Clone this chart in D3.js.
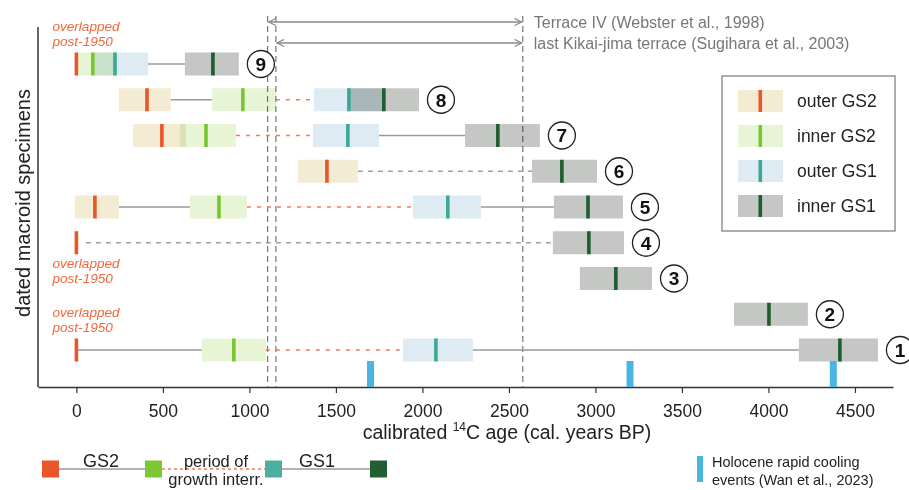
<!DOCTYPE html>
<html lang="en">
<head>
<meta charset="UTF-8">
<script src="https://d3js.org/d3.v7.min.js"></script>
<title>Macroid ages</title>
<style>
  body { margin: 0; background: #fff; }
  text { font-family: "Liberation Sans", Arial, sans-serif; }
</style>
</head>
<body>
<div id="chart"></div>
<script>
// specimens, top to bottom
const specimens = [9, 8, 7, 6, 5, 4, 3, 2, 1];

// calibrated ages (cal. yr BP): lo / age / hi  (no lo,hi = single date)
const outerGS2 = [
  { id: 9, age: 0 },
  { id: 8, lo: 246, age: 408, hi: 546 },
  { id: 7, lo: 327, age: 494, hi: 633 },
  { id: 6, lo: 1280, age: 1448, hi: 1627 },
  { id: 5, lo: -9, age: 107, hi: 246 },
  { id: 4, age: 0 },
  { id: 1, age: 0 }
];
const innerGS2 = [
  { id: 9, lo: -5, age: 95, hi: 223 },
  { id: 8, lo: 783, age: 962, hi: 1153 },
  { id: 7, lo: 598, age: 749, hi: 922 },
  { id: 5, lo: 656, age: 824, hi: 986 },
  { id: 1, lo: 725, age: 910, hi: 1095 }
];
const outerGS1 = [
  { id: 9, lo: 95, age: 223, hi: 413 },
  { id: 8, lo: 1373, age: 1575, hi: 1777 },
  { id: 7, lo: 1368, age: 1569, hi: 1749 },
  { id: 5, lo: 1945, age: 2147, hi: 2338 },
  { id: 1, lo: 1887, age: 2078, hi: 2292 }
];
const innerGS1 = [
  { id: 9, lo: 627, age: 789, hi: 939 },
  { id: 8, lo: 1575, age: 1777, hi: 1980 },
  { id: 7, lo: 2246, age: 2436, hi: 2679 },
  { id: 6, lo: 2633, age: 2806, hi: 3009 },
  { id: 5, lo: 2760, age: 2957, hi: 3159 },
  { id: 4, lo: 2754, age: 2962, hi: 3165 },
  { id: 3, lo: 2910, age: 3118, hi: 3327 },
  { id: 2, lo: 3801, age: 4003, hi: 4228 },
  { id: 1, lo: 4176, age: 4413, hi: 4633 }
];

// connectors
const growthLinks = [ // solid grey, within a growth stage
  { id: 9, from: 413, to: 627 },
  { id: 8, from: 546, to: 783 },
  { id: 7, from: 1749, to: 2246 },
  { id: 5, from: 246, to: 656 },
  { id: 5, from: 2338, to: 2760 },
  { id: 1, from: 0, to: 725 },
  { id: 1, from: 2292, to: 4176 }
];
const interruptLinks = [ // dashed orange, growth interruption
  { id: 8, from: 1153, to: 1373 },
  { id: 7, from: 922, to: 1368 },
  { id: 5, from: 986, to: 1945 },
  { id: 1, from: 1095, to: 1887 }
];
const unknownLinks = [ // dashed grey
  { id: 6, from: 1627, to: 2633 },
  { id: 4, from: 55, to: 2754 }
];

const postBombNotes = [9, 4, 1];
const coolingEvents = [1700, 3200, 4375];
const terraceLines = [1105, 1153, 2580];
const terraceArrows = [
  { from: 1105, to: 2580, label: "Terrace IV (Webster et al., 1998)" },
  { from: 1153, to: 2580, label: "last Kikai-jima terrace (Sugihara et al., 2003)" }
];
const xTicks = [0, 500, 1000, 1500, 2000, 2500, 3000, 3500, 4000, 4500];

const stages = [
  { name: "outer GS2", data: outerGS2, box: "#f4ebd3", tick: "#e8562a" },
  { name: "inner GS2", data: innerGS2, box: "#e7f5d6", tick: "#78c52e" },
  { name: "outer GS1", data: outerGS1, box: "#deebf2", tick: "#3aa895" },
  { name: "inner GS1", data: innerGS1, box: "#c4c7c4", tick: "#1d5e30" }
];

const width = 909, height = 490;
const svg = d3.select("#chart").append("svg")
  .attr("width", width).attr("height", height);

const x = d3.scaleLinear().domain([-222, 4720]).range([38, 893]);
const y = d3.scalePoint().domain(specimens).range([64, 350]);
const boxH = 23;
const axisY = 387;

// frame: left line + bottom axis
svg.append("line").attr("x1", 38).attr("x2", 38).attr("y1", 27).attr("y2", axisY)
  .attr("stroke", "#333").attr("stroke-width", 1.5);

const xAxis = svg.append("g").attr("transform", `translate(0,${axisY})`)
  .call(d3.axisBottom(x).tickValues(xTicks).tickFormat(d3.format("d"))
    .tickSize(6).tickPadding(12).tickSizeOuter(0));
xAxis.select(".domain").attr("stroke", "#333").attr("stroke-width", 1.5);
xAxis.selectAll(".tick line").attr("stroke", "#333").attr("stroke-width", 1.2);
xAxis.selectAll(".tick text").attr("font-size", 17.5).attr("fill", "#222")
  .attr("font-family", "Liberation Sans, Arial, sans-serif");

const xt = svg.append("text").attr("x", 507).attr("y", 439).attr("text-anchor", "middle")
  .attr("font-size", 19.5).attr("fill", "#222");
xt.append("tspan").text("calibrated ");
xt.append("tspan").attr("font-size", 12).attr("dy", -8).text("14");
xt.append("tspan").attr("dy", 8).text("C age (cal. years BP)");

svg.append("text").attr("transform", "translate(30,203) rotate(-90)")
  .attr("text-anchor", "middle").attr("font-size", 20).attr("fill", "#222")
  .text("dated macroid specimens");

// terrace vertical dashed lines
svg.selectAll(".terrace").data(terraceLines).enter().append("line")
  .attr("x1", d => x(d)).attr("x2", d => x(d)).attr("y1", 16).attr("y2", axisY)
  .attr("stroke", "#777").attr("stroke-width", 1.2).attr("stroke-dasharray", "6,4");

// arrows
const defs = svg.append("defs");
["start", "end"].forEach(k => {
  defs.append("marker").attr("id", "arr-" + k)
    .attr("viewBox", "0 0 10 10").attr("refX", k === "end" ? 9 : 1).attr("refY", 5)
    .attr("markerWidth", 9).attr("markerHeight", 9).attr("orient", "auto")
    .attr("markerUnits", "userSpaceOnUse")
    .append("path")
    .attr("d", k === "end" ? "M1,1 L9,5 L1,9" : "M9,1 L1,5 L9,9")
    .attr("fill", "none").attr("stroke", "#888").attr("stroke-width", 1.3);
});
terraceArrows.forEach((a, i) => {
  const yy = 22 + i * 21;
  svg.append("line").attr("x1", x(a.from) + 1).attr("x2", x(a.to) - 1)
    .attr("y1", yy).attr("y2", yy).attr("stroke", "#888").attr("stroke-width", 1.3)
    .attr("marker-start", "url(#arr-start)").attr("marker-end", "url(#arr-end)");
  svg.append("text").attr("x", x(a.to) + 11).attr("y", yy + 6)
    .attr("font-size", 16).attr("fill", "#777").text(a.label);
});

// connectors
function links(data, color, dash, w) {
  svg.append("g").selectAll("line").data(data).enter().append("line")
    .attr("x1", d => x(d.from)).attr("x2", d => x(d.to))
    .attr("y1", d => y(d.id)).attr("y2", d => y(d.id))
    .attr("stroke", color).attr("stroke-width", w)
    .attr("stroke-dasharray", dash);
}
links(growthLinks, "#9a9a9a", null, 1.3);
links(interruptLinks, "#f47a55", "4,6", 1.6);
links(unknownLinks, "#a0a0a0", "5,5", 1.5);

// boxes (multiply so overlaps darken)
const boxG = svg.append("g");
stages.forEach(s => {
  boxG.selectAll(null).data(s.data.filter(d => d.lo !== undefined)).enter().append("rect")
    .attr("x", d => x(d.lo)).attr("width", d => x(d.hi) - x(d.lo))
    .attr("y", d => y(d.id) - boxH / 2).attr("height", boxH)
    .attr("fill", s.box).style("mix-blend-mode", "multiply");
});
stages.forEach(s => {
  svg.append("g").selectAll("rect").data(s.data).enter().append("rect")
    .attr("x", d => x(d.age) - 1.8).attr("width", 3.6)
    .attr("y", d => y(d.id) - boxH / 2).attr("height", boxH)
    .attr("fill", s.tick);
});

// specimen number circles
const lastEnd = id => d3.max(stages.flatMap(s => s.data.filter(d => d.id === id)
  .map(d => d.hi !== undefined ? d.hi : d.age)));
const cg = svg.append("g").selectAll("g").data(specimens).enter().append("g")
  .attr("transform", d => `translate(${x(lastEnd(d)) + 22},${y(d)})`);
cg.append("circle").attr("r", 13.5).attr("fill", "#fff").attr("stroke", "#222").attr("stroke-width", 1.3);
cg.append("text").attr("text-anchor", "middle").attr("dy", "0.36em")
  .attr("font-size", 19).attr("font-weight", "bold").attr("fill", "#111").text(d => d);

// overlapped post-1950 notes
postBombNotes.forEach(id => {
  const below = id === 4;
  const y0 = below ? y(id) + 25 : y(id) - 33;
  const t = svg.append("text").attr("x", x(0) - 24).attr("y", y0)
    .attr("font-size", 13.6).attr("font-style", "italic").attr("fill", "#f0683c");
  t.append("tspan").text("overlapped");
  t.append("tspan").attr("x", x(0) - 24).attr("dy", 15).text("post-1950");
});

// Holocene cooling events
svg.append("g").selectAll("rect").data(coolingEvents).enter().append("rect")
  .attr("x", d => x(d) - 3.5).attr("width", 7)
  .attr("y", axisY - 26).attr("height", 26).attr("fill", "#4ab5e2");

// legend box
const lg = svg.append("g").attr("transform", "translate(722,76)");
lg.append("rect").attr("width", 173).attr("height", 155)
  .attr("fill", "#fff").attr("stroke", "#777").attr("stroke-width", 1.2);
const li = lg.selectAll("g").data(stages).enter().append("g")
  .attr("transform", (d, i) => `translate(16,${25 + i * 35})`);
li.append("rect").attr("y", -11).attr("width", 45).attr("height", 22).attr("fill", d => d.box);
li.append("rect").attr("x", 20.5).attr("y", -11).attr("width", 3.6).attr("height", 22).attr("fill", d => d.tick);
li.append("text").attr("x", 59).attr("dy", "0.36em").attr("font-size", 17.5)
  .attr("fill", "#222").text(d => d.name);

// bottom legend
const bl = svg.append("g").attr("transform", "translate(0,469)");
const squares = [
  { x: 42, c: "#e8562a" }, { x: 145, c: "#7cc832" },
  { x: 265, c: "#4aaf9e" }, { x: 370, c: "#1f5f32" }
];
bl.append("rect").attr("x", 59).attr("width", 86).attr("y", -0.8).attr("height", 1.6).attr("fill", "#a0a0a0");
bl.append("rect").attr("x", 282).attr("width", 88).attr("y", -0.8).attr("height", 1.6).attr("fill", "#a0a0a0");
bl.append("line").attr("x1", 162).attr("x2", 265).attr("y1", 0).attr("y2", 0)
  .attr("stroke", "#f47a55").attr("stroke-width", 1.3).attr("stroke-dasharray", "3,3");
bl.append("g").selectAll("rect").data(squares).enter().append("rect")
  .attr("x", d => d.x).attr("y", -8.5).attr("width", 17).attr("height", 17).attr("fill", d => d.c);
bl.append("text").attr("x", 101).attr("y", -2).attr("text-anchor", "middle").attr("font-size", 18).attr("fill", "#222").text("GS2");
bl.append("text").attr("x", 317).attr("y", -2).attr("text-anchor", "middle").attr("font-size", 18).attr("fill", "#222").text("GS1");
bl.append("text").attr("x", 216).attr("y", -2).attr("text-anchor", "middle").attr("font-size", 16.5).attr("fill", "#222").text("period of");
bl.append("text").attr("x", 216).attr("y", 16).attr("text-anchor", "middle").attr("font-size", 16.5).attr("fill", "#222").text("growth interr.");

bl.append("rect").attr("x", 697).attr("y", -13).attr("width", 6).attr("height", 26).attr("fill", "#4ab5e2");
bl.append("text").attr("x", 712).attr("y", -2).attr("font-size", 14.5).attr("fill", "#222").text("Holocene rapid cooling");
bl.append("text").attr("x", 712).attr("y", 16).attr("font-size", 14.5).attr("fill", "#222").text("events (Wan et al., 2023)");
</script>
</body>
</html>
